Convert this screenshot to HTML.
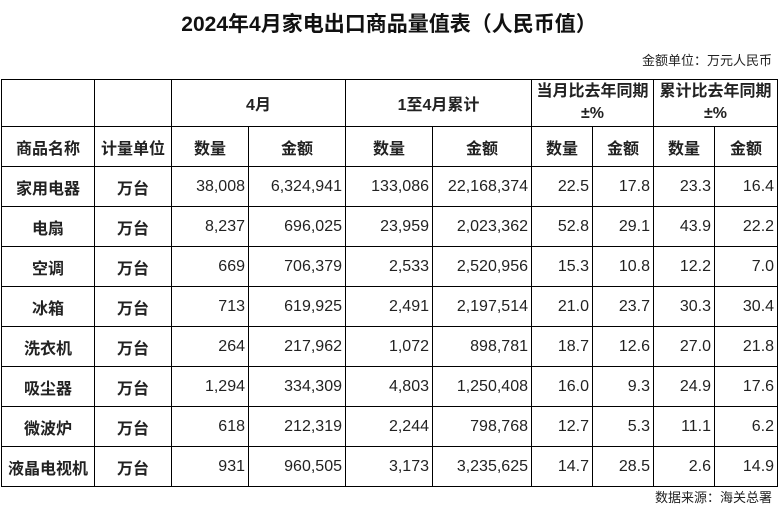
<!DOCTYPE html>
<html><head><meta charset="utf-8"><style>
body{margin:0;width:778px;height:528px;background:#fff;font-family:"Liberation Sans","Noto Sans CJK SC",sans-serif;color:#222;position:relative;overflow:hidden}
.title{position:absolute;top:8px;left:0;width:778px;text-align:center;font-size:21px;font-weight:bold;color:#111}
.unit{position:absolute;top:50px;right:6px;font-size:13px}
.src{position:absolute;top:487px;right:6px;font-size:13px}
table{position:absolute;left:1px;top:79px;border-collapse:collapse;table-layout:fixed;width:776px}
td{border:1px solid #000;padding:0 3px;font-size:16px;height:39px;text-align:right;overflow:hidden;white-space:nowrap}
tr.h1 td{height:46px}
td.c,tr.h td,tr.h1 td{text-align:center;font-weight:bold}
td.n{text-align:center;font-weight:bold}
.two{line-height:22px}
</style></head><body>
<div class="title">2024年4月家电出口商品量值表（人民币值）</div>
<div class="unit">金额单位：万元人民币</div>
<table>
<colgroup><col style="width:93px"><col style="width:77px"><col style="width:77px"><col style="width:97px"><col style="width:87px"><col style="width:99px"><col style="width:61px"><col style="width:61px"><col style="width:61px"><col style="width:63px"></colgroup>
<tr class="h1"><td></td><td></td><td colspan="2">4月</td><td colspan="2">1至4月累计</td><td colspan="2" class="two">当月比去年同期<br>±%</td><td colspan="2" class="two">累计比去年同期<br>±%</td></tr>
<tr class="h"><td>商品名称</td><td>计量单位</td><td>数量</td><td>金额</td><td>数量</td><td>金额</td><td>数量</td><td>金额</td><td>数量</td><td>金额</td></tr>
<tr><td class="n">家用电器</td><td class="n">万台</td><td>38,008</td><td>6,324,941</td><td>133,086</td><td>22,168,374</td><td>22.5</td><td>17.8</td><td>23.3</td><td>16.4</td></tr>
<tr><td class="n">电扇</td><td class="n">万台</td><td>8,237</td><td>696,025</td><td>23,959</td><td>2,023,362</td><td>52.8</td><td>29.1</td><td>43.9</td><td>22.2</td></tr>
<tr><td class="n">空调</td><td class="n">万台</td><td>669</td><td>706,379</td><td>2,533</td><td>2,520,956</td><td>15.3</td><td>10.8</td><td>12.2</td><td>7.0</td></tr>
<tr><td class="n">冰箱</td><td class="n">万台</td><td>713</td><td>619,925</td><td>2,491</td><td>2,197,514</td><td>21.0</td><td>23.7</td><td>30.3</td><td>30.4</td></tr>
<tr><td class="n">洗衣机</td><td class="n">万台</td><td>264</td><td>217,962</td><td>1,072</td><td>898,781</td><td>18.7</td><td>12.6</td><td>27.0</td><td>21.8</td></tr>
<tr><td class="n">吸尘器</td><td class="n">万台</td><td>1,294</td><td>334,309</td><td>4,803</td><td>1,250,408</td><td>16.0</td><td>9.3</td><td>24.9</td><td>17.6</td></tr>
<tr><td class="n">微波炉</td><td class="n">万台</td><td>618</td><td>212,319</td><td>2,244</td><td>798,768</td><td>12.7</td><td>5.3</td><td>11.1</td><td>6.2</td></tr>
<tr><td class="n">液晶电视机</td><td class="n">万台</td><td>931</td><td>960,505</td><td>3,173</td><td>3,235,625</td><td>14.7</td><td>28.5</td><td>2.6</td><td>14.9</td></tr>
</table>
<div class="src">数据来源：海关总署</div>
</body></html>
